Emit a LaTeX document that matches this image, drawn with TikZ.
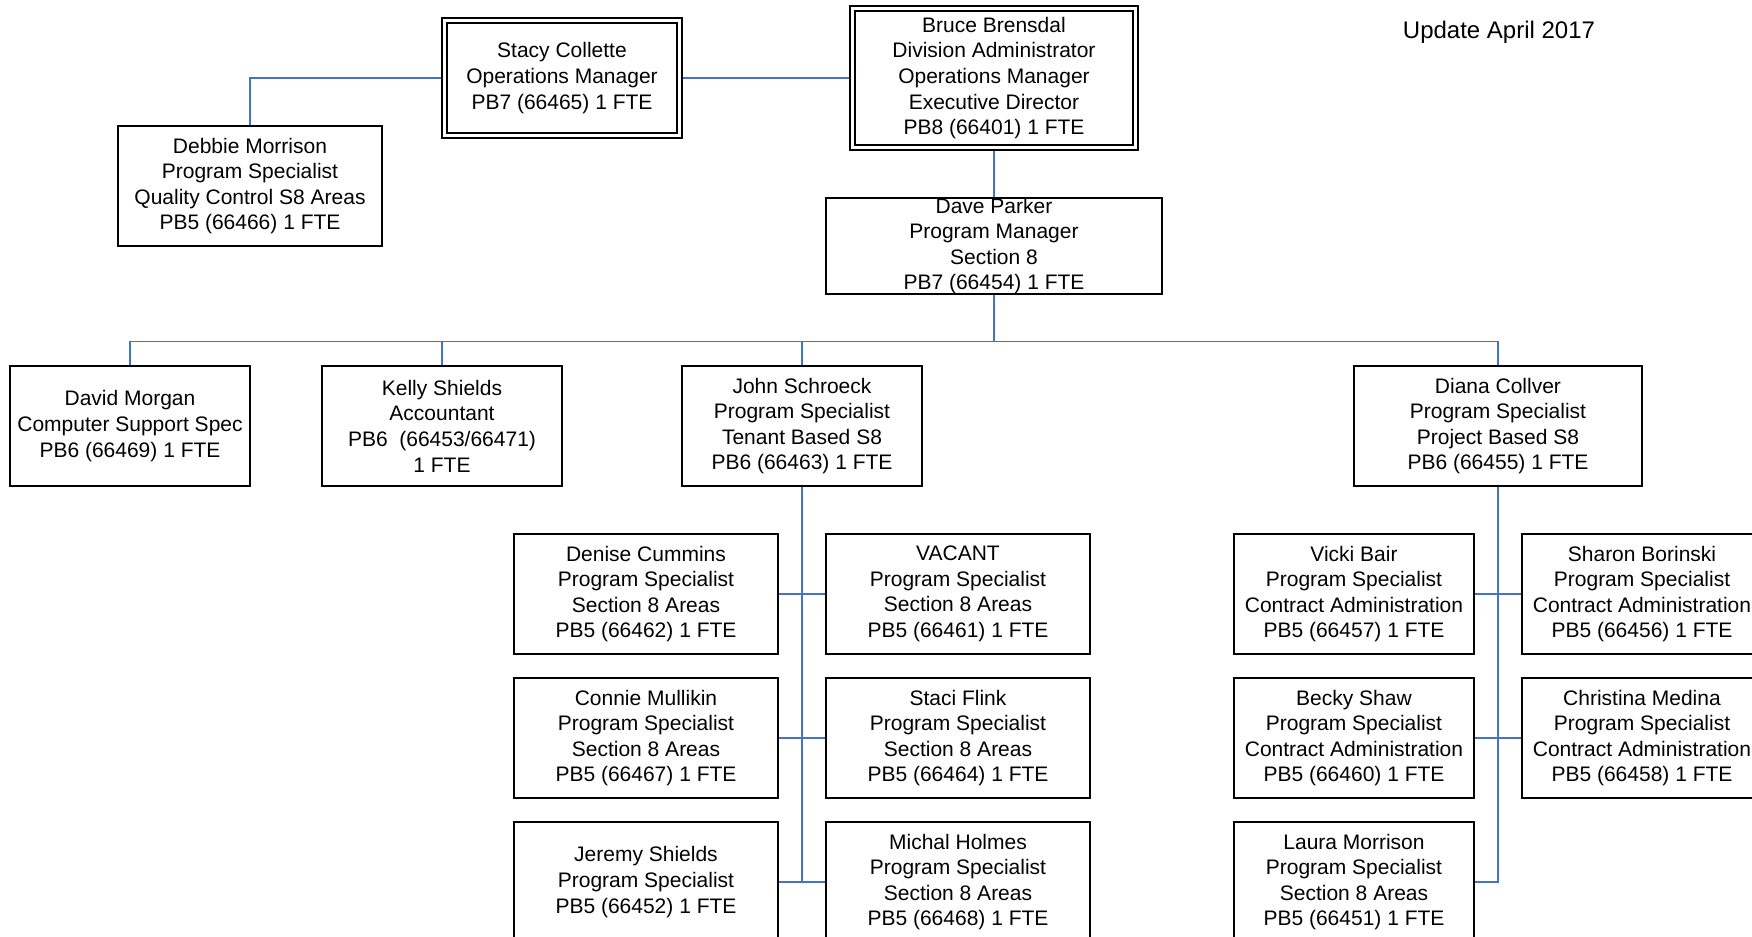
\documentclass[tikz,border=0pt]{standalone}
\usepackage{fontspec}
\setmainfont{Liberation Sans}
\definecolor{linkblue}{RGB}{68,114,196}
\begin{document}
\begin{tikzpicture}[x=0.5pt, y=-0.5pt, node distance=72pt,
  box/.style = {draw, rectangle, line width=0.65pt, align=center, inner sep=0pt,
    minimum width=120pt, minimum height=60pt, font=\fontsize{10.5}{12.8}\selectfont},
  wide/.style = {box, minimum width=132pt},
  boss/.style = {box, path picture={\draw[line width=0.65pt]
    ([shift={(2.5pt,-2.5pt)}]path picture bounding box.north west) rectangle
    ([shift={(-2.5pt,2.5pt)}]path picture bounding box.south east);}},
  link/.style = {draw=linkblue, line width=0.55pt}]
\useasboundingbox (0,0) rectangle (1752,937);
% top
\node[boss] (stacy) at (562,78) {Stacy Collette\\Operations Manager\\PB7 (66465) 1 FTE};
\node[boss, minimum width=144pt, minimum height=72pt] (bruce) at (994,78) {Bruce Brensdal\\Division Administrator\\Operations Manager\\Executive Director\\PB8 (66401) 1 FTE};
\node[wide] (debbie) at (250,186) {Debbie Morrison\\Program Specialist\\Quality Control S8 Areas\\PB5 (66466) 1 FTE};
\node[box, minimum width=168pt, minimum height=48pt, font=\fontsize{10.5}{12.65}\selectfont] (dave) at (994,246) {Dave Parker\\Program Manager\\Section 8\\PB7 (66454) 1 FTE};
\node (update) at (1499,32) {\fontsize{12}{14}\selectfont Update April 2017};
% second level
\node[box] (david) at (130,426) {David Morgan\\Computer Support Spec\\PB6 (66469) 1 FTE};
\node[box] (kelly) at (442,426) {Kelly Shields\\Accountant\\PB6\ \ (66453/66471)\\1 FTE};
\node[box] (john) at (802,426) {John Schroeck\\Program Specialist\\Tenant Based S8\\PB6 (66463) 1 FTE};
\node[box, minimum width=144pt] (diana) at (1498,426) {Diana Collver\\Program Specialist\\Project Based S8\\PB6 (66455) 1 FTE};
% tenant based
\node[wide] (denise) at (646,594) {Denise Cummins\\Program Specialist\\Section 8 Areas\\PB5 (66462) 1 FTE};
\node[wide] (connie) [below of=denise] {Connie Mullikin\\Program Specialist\\Section 8 Areas\\PB5 (66467) 1 FTE};
\node[wide] (jeremy) [below of=connie] {Jeremy Shields\\Program Specialist\\PB5 (66452) 1 FTE};
\node[wide] (vacant) at (958,594) {VACANT\\Program Specialist\\Section 8 Areas\\PB5 (66461) 1 FTE};
\node[wide] (staci) [below of=vacant] {Staci Flink\\Program Specialist\\Section 8 Areas\\PB5 (66464) 1 FTE};
\node[wide] (michal) [below of=staci] {Michal Holmes\\Program Specialist\\Section 8 Areas\\PB5 (66468) 1 FTE};
% project based
\node[box] (vicki) at (1354,594) {Vicki Bair\\Program Specialist\\Contract Administration\\PB5 (66457) 1 FTE};
\node[box] (becky) [below of=vicki] {Becky Shaw\\Program Specialist\\Contract Administration\\PB5 (66460) 1 FTE};
\node[box] (laura) [below of=becky] {Laura Morrison\\Program Specialist\\Section 8 Areas\\PB5 (66451) 1 FTE};
\node[box] (sharon) at (1642,594) {Sharon Borinski\\Program Specialist\\Contract Administration\\PB5 (66456) 1 FTE};
\node[box] (christina) [below of=sharon] {Christina Medina\\Program Specialist\\Contract Administration\\PB5 (66458) 1 FTE};
% lines
\coordinate (bus) at ([yshift=12pt]john.north);
\draw[link] (debbie.north) |- (stacy.west);
\draw[link] (stacy.east) -- (bruce.west);
\draw[link] (bruce.south) -- (dave.north);
\draw[link] (dave.south) -- (dave.south |- bus);
\draw[link] (david.north) |- (diana.north |- bus) -- (diana.north);
\draw[link] (kelly.north) -- (kelly.north |- bus);
\draw[link] (john.north) -- (john.north |- bus);
\draw[link] (john.south) -- (john.south |- jeremy.east);
\draw[link] (denise.east) -- (vacant.west);
\draw[link] (connie.east) -- (staci.west);
\draw[link] (jeremy.east) -- (michal.west);
\draw[link] (diana.south) |- (laura.east);
\draw[link] (vicki.east) -- (sharon.west);
\draw[link] (becky.east) -- (christina.west);
\end{tikzpicture}
\end{document}
